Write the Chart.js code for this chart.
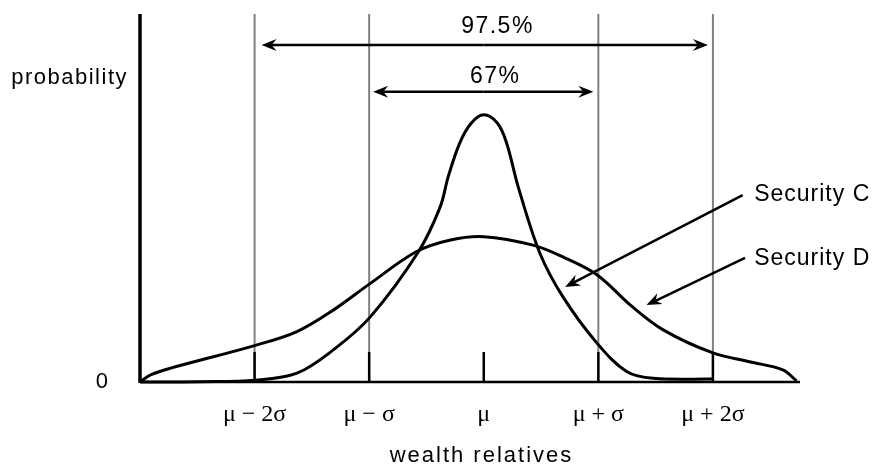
<!DOCTYPE html>
<html>
<head>
<meta charset="utf-8">
<script src="https://cdn.jsdelivr.net/npm/chart.js@4.4.0/dist/chart.umd.min.js"></script>
<style>
  html, body { margin: 0; padding: 0; background: #fff; }
</style>
</head>
<body>
<canvas id="chart" width="873" height="467"></canvas>
<script>
// x is measured in sigmas from the mean, y in arbitrary probability units (0..100)
const secCx = [-3.00, -2.48, -1.99, -1.63, -1.31, -0.99, -0.57, -0.38, -0.31, -0.21, -0.11, 0.00, 0.12, 0.20, 0.30, 0.49, 0.69, 0.99, 1.25, 1.48, 2.00];
const secCy = [0, 0.1, 0.5, 2.4, 8.8, 17.7, 35.4, 47.6, 55.8, 64.9, 70.3, 72.6, 70.3, 64.9, 53.1, 35.0, 23.2, 10.5, 2.8, 1.0, 0.8];

const secDx = [-3.00, -2.91, -2.74, -2.00, -1.63, -1.31, -0.99, -0.59, -0.29, 0.00, 0.43, 0.69, 0.99, 1.28, 1.57, 2.00, 2.32, 2.61, 2.73];
const secDy = [0, 1.9, 3.7, 9.9, 13.7, 19.6, 26.8, 35.4, 38.6, 39.5, 37.2, 34.0, 29.1, 20.9, 14.1, 7.9, 5.5, 3.3, 0.3];

const sigmaTicks = [-2, -1, 0, 1, 2];
const tickLabels = ['μ − 2σ', 'μ − σ', 'μ', 'μ + σ', 'μ + 2σ'];
const guideLines = [-2, -1, 1, 2];

const SANS = "'Liberation Sans', Arial, sans-serif";
const SERIF = "'Liberation Serif', 'Times New Roman', serif";

function toPoints(xs, ys) {
  return xs.map((x, i) => ({ x, y: ys[i] }));
}

function line(ctx, x1, y1, x2, y2) {
  ctx.beginPath();
  ctx.moveTo(x1, y1);
  ctx.lineTo(x2, y2);
  ctx.stroke();
}

function arrow(ctx, x1, y1, x2, y2) {
  const ang = Math.atan2(y2 - y1, x2 - x1);
  const len = 15, half = 6, notch = 10;
  const cos = Math.cos(ang), sin = Math.sin(ang);
  line(ctx, x1, y1, x2 - cos * notch, y2 - sin * notch);
  ctx.beginPath();
  ctx.moveTo(x2, y2);
  ctx.lineTo(x2 - cos * len - sin * half, y2 - sin * len + cos * half);
  ctx.lineTo(x2 - cos * notch, y2 - sin * notch);
  ctx.lineTo(x2 - cos * len + sin * half, y2 - sin * len - cos * half);
  ctx.closePath();
  ctx.fill();
}

function text(ctx, str, x, y, align, font, spacing) {
  ctx.font = font;
  ctx.textAlign = align;
  ctx.letterSpacing = (spacing || 0) + 'px';
  ctx.fillText(str, x, y);
  ctx.letterSpacing = '0px';
}

const sketch = {
  id: 'sketch',
  beforeDatasetsDraw(chart) {
    const { ctx, chartArea: a, scales: { x } } = chart;
    ctx.save();
    ctx.strokeStyle = '#808080';
    ctx.lineWidth = 2;
    guideLines.forEach(v => {
      const px = x.getPixelForValue(v);
      line(ctx, px, a.top, px, a.bottom);
    });
    ctx.strokeStyle = '#000';
    ctx.lineWidth = 2.5;
    sigmaTicks.forEach(v => {
      const px = x.getPixelForValue(v);
      line(ctx, px, a.bottom - 30, px, a.bottom);
    });
    ctx.lineWidth = 3.5;
    line(ctx, a.left, a.top, a.left, a.bottom + 1);
    ctx.lineWidth = 2.5;
    line(ctx, a.left, a.bottom, a.right, a.bottom);
    ctx.restore();
  },
  afterDatasetsDraw(chart) {
    const { ctx, chartArea: a, scales: { x, y } } = chart;
    ctx.save();
    ctx.strokeStyle = '#000';
    ctx.fillStyle = '#000';
    ctx.lineWidth = 2.5;

    // range arrows
    const y97 = y.getPixelForValue(91.6);
    arrow(ctx, x.getPixelForValue(0), y97, x.getPixelForValue(-2) + 7, y97);
    arrow(ctx, x.getPixelForValue(0), y97, x.getPixelForValue(2) - 5, y97);
    const y67 = y.getPixelForValue(78.9);
    arrow(ctx, x.getPixelForValue(0), y67, x.getPixelForValue(-1) + 4, y67);
    arrow(ctx, x.getPixelForValue(0), y67, x.getPixelForValue(1) - 5, y67);

    // pointer arrows to the curves
    arrow(ctx, x.getPixelForValue(2.26), y.getPixelForValue(50.8), x.getPixelForValue(0.71), y.getPixelForValue(25.8));
    arrow(ctx, x.getPixelForValue(2.28), y.getPixelForValue(33.7), x.getPixelForValue(1.42), y.getPixelForValue(20.9));

    ctx.textBaseline = 'middle';
    text(ctx, '97.5%', x.getPixelForValue(0.12), y.getPixelForValue(96.6), 'center', '23px ' + SANS, 1.5);
    text(ctx, '67%', x.getPixelForValue(0.10), y.getPixelForValue(83.0), 'center', '23px ' + SANS, 1.5);
    text(ctx, 'Security C', x.getPixelForValue(2.36), y.getPixelForValue(50.8), 'left', '23px ' + SANS, 1);
    text(ctx, 'Security D', x.getPixelForValue(2.36), y.getPixelForValue(33.4), 'left', '23px ' + SANS, 1);
    text(ctx, 'probability', a.left - 12, y.getPixelForValue(82.6), 'right', '22px ' + SANS, 1.5);
    text(ctx, '0', a.left - 32, a.bottom, 'right', '22px ' + SANS, 0);

    ctx.textBaseline = 'alphabetic';
    sigmaTicks.forEach((v, i) => {
      text(ctx, tickLabels[i], x.getPixelForValue(v), a.bottom + 39, 'center', '24px ' + SERIF, 0);
    });
    text(ctx, 'wealth relatives', x.getPixelForValue(-0.02), a.bottom + 80, 'center', '22px ' + SANS, 2);
    ctx.restore();
  }
};

const curveStyle = {
  borderColor: '#000',
  borderWidth: 3,
  pointRadius: 0,
  fill: false,
  tension: 0.35,
  clip: false
};

new Chart(document.getElementById('chart'), {
  type: 'line',
  data: {
    datasets: [
      { label: 'Security C', data: toPoints(secCx, secCy), ...curveStyle },
      { label: 'Security D', data: toPoints(secDx, secDy), ...curveStyle }
    ]
  },
  options: {
    responsive: false,
    animation: false,
    layout: { padding: { left: 140, top: 14, right: 73, bottom: 85 } },
    plugins: { legend: { display: false }, tooltip: { enabled: false } },
    scales: {
      x: { type: 'linear', min: -3, max: 2.76, display: false },
      y: { min: 0, max: 100, display: false }
    }
  },
  plugins: [sketch]
});
</script>
</body>
</html>
